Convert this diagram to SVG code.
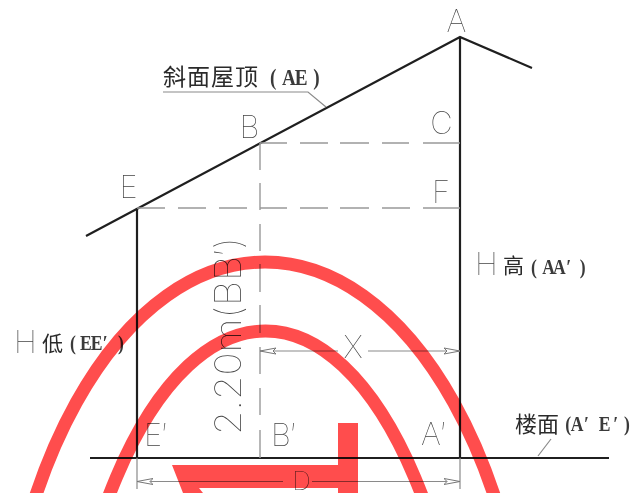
<svg xmlns="http://www.w3.org/2000/svg" width="632" height="493" viewBox="0 0 632 493">
<style>
.heavy{fill:none;stroke:#1f1f1f;stroke-width:2.200}
.thin{fill:none;stroke:#8a8a8a;stroke-width:1.200}
.dash{fill:none;stroke:#999;stroke-width:1.400}
.cad{font-family:"Inter","Liberation Sans",sans-serif;font-weight:100;font-size:31px;fill:#444}
.cn{font-family:"Noto Sans CJK SC",sans-serif;fill:#2a2a2a}
.lat{font-family:"Liberation Serif",serif;font-weight:700;fill:#3a3a3a}
.red{mix-blend-mode:multiply}
.band{fill:none;stroke:#ff4d4d;stroke-width:13}
</style>
<defs>
<marker id="arr" viewBox="0 0 16 8" refX="16" refY="4" markerWidth="16" markerHeight="8" markerUnits="userSpaceOnUse" orient="auto-start-reverse">
<path d="M0 1 L16 4 L0 7 L3 4 Z" fill="#fff" stroke="#777" stroke-width="1"/>
</marker>
</defs>
<rect width="632" height="493" fill="#fff"/>
<g id="connectors">
<path class="heavy" d="M86 236 L460 37 L532 68"/>
<path class="heavy" d="M460 37 V458"/>
<path class="heavy" d="M137 208 V458"/>
<path class="heavy" d="M90 458 H609"/>
<path class="dash" d="M260 143 H287 M300 143 H328 M340 143 H369 M382 143 H409 M423 143 H460"/>
<path class="dash" d="M137 208 H165 M178 208 H206 M219 208 H247 M260 208 H287 M300 208 H328 M340 208 H369 M382 208 H410 M423 208 H460"/>
<path class="dash" d="M260 143 V170 M260 183 V210 M260 224 V251 M260 264 V292 M260 305 V333 M260 347 V374 M260 388 V415 M260 430 V458"/>
<path class="thin" d="M137 458 V489 M460 458 V489"/>
<path class="thin" d="M163 92 H308 L326 107"/>
<path class="thin" d="M538 456 L551 439"/>
<path class="thin" d="M338 351 H260" marker-end="url(#arr)"/>
<path class="thin" d="M368 351 H460" marker-end="url(#arr)"/>
<path class="thin" d="M283 481.500 H137" marker-end="url(#arr)"/>
<path class="thin" d="M312 481.500 H460" marker-end="url(#arr)"/>
</g>
<g id="node-A"><text class="cad" x="456.500" y="32" text-anchor="middle">A</text></g>
<g id="node-B"><text class="cad" x="249.500" y="138" text-anchor="middle">B</text></g>
<g id="node-C"><text class="cad" x="441.500" y="134" text-anchor="middle">C</text></g>
<g id="node-E"><text class="cad" x="128.500" y="198" text-anchor="middle">E</text></g>
<g id="node-F"><text class="cad" x="441" y="203" text-anchor="middle">F</text></g>
<g id="node-E-prime"><text class="cad" x="144" y="446">E′</text></g>
<g id="node-B-prime"><text class="cad" x="271" y="446">B′</text></g>
<g id="node-A-prime"><text class="cad" x="421" y="445">A′</text></g>
<g id="label-X"><text class="cad" x="353" y="358" text-anchor="middle">X</text></g>
<g id="label-D"><text class="cad" x="301.500" y="490" text-anchor="middle" style="font-size:26px">D</text></g>
<g id="label-220"><text class="cad" transform="translate(241 435) rotate(-90)" textLength="198" lengthAdjust="spacingAndGlyphs" style="font-size:36px">2.20m(BB′)</text></g>
<g id="label-roof">
<text class="cn" x="163" y="85" font-size="23" textLength="95">斜面屋顶</text>
<text class="lat" transform="translate(270 85) scale(.8 1)" x="0 15 31 54" font-size="24">(AE)</text>
</g>
<g id="label-floor">
<text class="cn" x="515" y="432" font-size="22" textLength="44">楼面</text>
<text class="lat" transform="translate(566 431) scale(.8 1)" x="-1 6 22.500 41 59 72.500" font-size="22">(A′E′)</text>
</g>
<g id="label-high">
<text class="cad" x="475" y="275">H</text>
<text class="cn" x="503" y="273" font-size="21">高</text>
<text class="lat" transform="translate(531 274) scale(.8 1)" x="0 14 27.500 44 61" font-size="22">(AA′)</text>
</g>
<g id="label-low">
<text class="cad" x="14" y="353">H</text>
<text class="cn" x="42" y="351" font-size="21">低</text>
<text class="lat" transform="translate(70 350) scale(.8 1)" x="0 12.500 26 41 60" font-size="22">(EE′)</text>
</g>
<g id="watermark" class="red">
<ellipse class="band" cx="265" cy="742" rx="267" ry="480"/>
<ellipse class="band" cx="265.500" cy="831" rx="211" ry="500"/>
<path d="M172 465 H338 V423 H358 V493 H338 V488 H199 L203 493 H183 Z" fill="#ff4d4d"/>
</g>
</svg>
